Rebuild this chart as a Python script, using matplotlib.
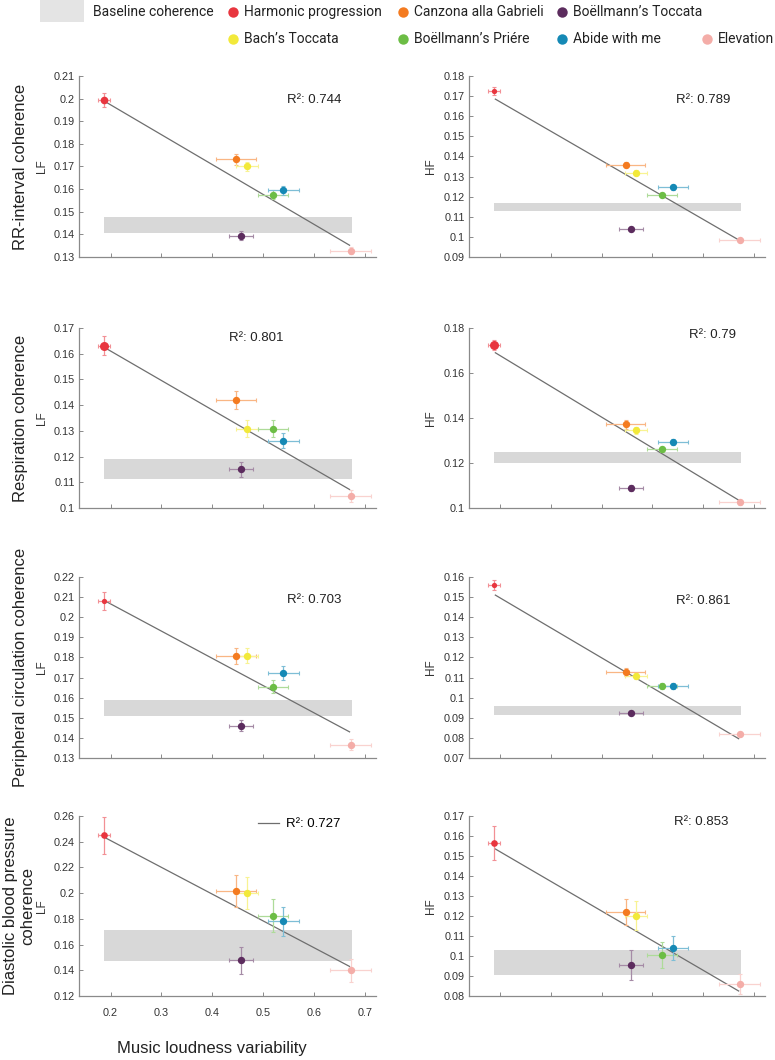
import matplotlib
matplotlib.use("Agg")
import matplotlib.pyplot as plt
import matplotlib.colors as mcolors
from matplotlib.lines import Line2D
from matplotlib.patches import Rectangle
from matplotlib.ticker import FuncFormatter
import numpy as np

plt.rcParams['font.family'] = ['Liberation Sans', 'DejaVu Sans']

# ---------------- data ----------------
pieces = ["Harmonic progression", "Canzona alla Gabrieli", "Boëllmann’s Toccata",
          "Bach’s Toccata", "Boëllmann’s Priére", "Abide with me", "Elevation"]
piece_colors = ["#E8363F", "#F47B20", "#5C2C5E", "#F2E93A", "#6CBD45", "#1589B5", "#F4ADA8"]

loudness = [0.187, 0.447, 0.457, 0.468, 0.519, 0.540, 0.672]
loudness_err = [0.012, 0.039, 0.024, 0.022, 0.030, 0.030, 0.040]

row_titles = ["RR-interval coherence", "Respiration coherence",
              "Peripheral circulation coherence", "Diastolic blood pressure\ncoherence"]
band_names = ["LF", "HF"]

# coherence means (order of pieces list)
rr_lf = [0.1994, 0.1731, 0.1394, 0.1701, 0.1575, 0.1594, 0.1327]
rr_lf_err = [0.0030, 0.0025, 0.0020, 0.0020, 0.0020, 0.0020, 0.0015]
rr_hf = [0.1725, 0.1358, 0.1040, 0.1320, 0.1210, 0.1247, 0.0985]
rr_hf_err = [0.0020, 0.0012, 0.0010, 0.0012, 0.0010, 0.0012, 0.0008]
resp_lf = [0.1631, 0.1420, 0.1150, 0.1309, 0.1309, 0.1262, 0.1046]
resp_lf_err = [0.0037, 0.0034, 0.0030, 0.0034, 0.0034, 0.0030, 0.0023]
resp_hf = [0.1724, 0.1373, 0.1089, 0.1345, 0.1260, 0.1293, 0.1025]
resp_hf_err = [0.0022, 0.0020, 0.0012, 0.0015, 0.0012, 0.0015, 0.0010]
per_lf = [0.2082, 0.1808, 0.1461, 0.1808, 0.1655, 0.1723, 0.1366]
per_lf_err = [0.0045, 0.0040, 0.0026, 0.0037, 0.0033, 0.0035, 0.0026]
per_hf = [0.1560, 0.1130, 0.0922, 0.1110, 0.1059, 0.1056, 0.0820]
per_hf_err = [0.0025, 0.0020, 0.0010, 0.0015, 0.0015, 0.0015, 0.0010]
dbp_lf = [0.2450, 0.2020, 0.1480, 0.2000, 0.1825, 0.1780, 0.1400]
dbp_lf_err = [0.0145, 0.0125, 0.0105, 0.0125, 0.0130, 0.0110, 0.0090]
dbp_hf = [0.1563, 0.1219, 0.0955, 0.1202, 0.1005, 0.1042, 0.0858]
dbp_hf_err = [0.0085, 0.0064, 0.0073, 0.0073, 0.0063, 0.0060, 0.0050]

# baseline coherence bands (low, high)
baseline = [(0.1408, 0.1477), (0.1127, 0.1167), (0.1112, 0.1189), (0.1202, 0.1250),
            (0.1511, 0.1589), (0.0912, 0.0957), (0.1470, 0.1714), (0.0904, 0.1032)]
baseline_x = (0.188, 0.675)

# regression line (x range and y at its ends)
fit_x = (0.19, 0.67)
fit_y = [(0.1986, 0.1352), (0.1685, 0.0985), (0.1622, 0.1072), (0.1690, 0.1035),
         (0.2080, 0.1430), (0.1510, 0.0796), (0.2430, 0.1430), (0.1535, 0.0825)]
r2 = ["0.744", "0.789", "0.801", "0.79", "0.703", "0.861", "0.727", "0.853"]

# y axis ranges (min, max, step)
y_axes = [(0.13, 0.21, 0.01), (0.09, 0.18, 0.01), (0.10, 0.17, 0.01), (0.10, 0.18, 0.02),
          (0.13, 0.22, 0.01), (0.07, 0.16, 0.01), (0.12, 0.26, 0.02), (0.08, 0.17, 0.01)]
x_ticks = [0.2, 0.3, 0.4, 0.5, 0.6, 0.7]
x_range = (0.138, 0.722)

means = [rr_lf, rr_hf, resp_lf, resp_hf, per_lf, per_hf, dbp_lf, dbp_hf]
errs = [rr_lf_err, rr_hf_err, resp_lf_err, resp_hf_err, per_lf_err, per_hf_err, dbp_lf_err, dbp_hf_err]

# ---------------- style ----------------
r2_pos = [(0.547, 0.1995), (0.546, 0.168), (0.433, 0.1663), (0.572, 0.1767),
          (0.547, 0.2085), (0.546, 0.1482), (0.490, 0.2535), (0.542, 0.167)]
first_ms = [5.5, 3.8, 6.5, 6.5, 3.8, 3.8, 4.8, 4.8]
ms = 5.3

W, H = 775, 1060
fig = plt.figure(figsize=(W / 100, H / 100), dpi=100)

col_px = [(79, 376), (469, 765)]
row_px = [(76, 257), (328, 508), (577, 758), (816, 996)]


def lighten(c, f=0.45):
    r = np.array(mcolors.to_rgb(c))
    return tuple(r + (1 - r) * f)


axes = []
for i in range(8):
    r, c = divmod(i, 2)
    x0, x1 = col_px[c]
    t, b = row_px[r]
    ax = fig.add_axes([x0 / W, 1 - b / H, (x1 - x0) / W, (b - t) / H])
    axes.append(ax)

    lo, hi = baseline[i]
    ax.fill_between(baseline_x, [lo, lo], [hi, hi], color="#D8D8D8", lw=0, zorder=1)
    fit_line, = ax.plot(fit_x, fit_y[i], color="#6E6E6E", lw=0.9, zorder=2)

    for k in range(len(pieces)):
        col = piece_colors[k]
        ax.errorbar(loudness[k], means[i][k], xerr=loudness_err[k], yerr=errs[i][k],
                    fmt="none", ecolor=lighten(col), elinewidth=0.9, capsize=1.6,
                    capthick=0.8, zorder=3)
        ax.plot(loudness[k], means[i][k], "o", ms=first_ms[i] if k == 0 else ms,
                color=col, mec="none", zorder=4)

    ymin, ymax, ystep = y_axes[i]
    yt = np.round(np.arange(ymin, ymax + ystep / 2, ystep), 3)
    ax.set_yticks(yt)
    ax.set_ylim(ymin, ymax)
    ax.yaxis.set_major_formatter(FuncFormatter(lambda v, p: f"{v:g}"))
    ax.set_xticks(x_ticks)
    ax.set_xlim(*x_range)
    if i == 6:
        ax.set_xticklabels([f"{v:g}" for v in x_ticks])
    else:
        ax.set_xticklabels([])

    for s in ["top", "right"]:
        ax.spines[s].set_visible(False)
    for s in ["left", "bottom"]:
        ax.spines[s].set_color("#8A8A8A")
        ax.spines[s].set_linewidth(0.9)
    ax.tick_params(direction="in", length=3, width=0.7, color="#8A8A8A",
                   labelsize=7.8, labelcolor="#333333", pad=3)
    ax.tick_params(axis="x", pad=9)

    ax.set_ylabel(band_names[c], fontsize=8.5, color="#333333")
    ax.yaxis.set_label_coords(-(31 if c == 0 else 32) / (x1 - x0), 0.5)

    if i == 6:
        ax.legend([fit_line], [f"R²: {r2[i]}"], loc="center left",
                  bbox_to_anchor=r2_pos[i], bbox_transform=ax.transData,
                  frameon=False, fontsize=9.5, handlelength=1.6, handletextpad=0.5,
                  borderpad=0, borderaxespad=0)
    else:
        ax.text(r2_pos[i][0], r2_pos[i][1], f"R²: {r2[i]}", fontsize=9.5,
                ha="left", va="center", color="#222222")

# row titles
title_x = [21, 21, 21, 19]
for r, title in enumerate(row_titles):
    t, b = row_px[r]
    fig.text(title_x[r] / W, 1 - (t + b) / 2 / H, title, rotation=90, ha="center",
             va="center", fontsize=12, color="#222222", linespacing=1.15)

fig.text(212 / W, 1 - 1048 / H, "Music loudness variability", ha="center", va="center",
         fontsize=12, color="#222222")

# ---------------- legend ----------------
leg_font = ['Liberation Sans Narrow', 'Roboto', 'DejaVu Sans']
fig.add_artist(Rectangle((40 / W, 1 - 22 / H), 44 / W, 22 / H, transform=fig.transFigure,
                         color="#E4E4E4", lw=0))
fig.text(93 / W, 1 - 12 / H, "Baseline coherence", ha="left", va="center",
         fontsize=10, family=leg_font, color="#222222")
leg_slots = [(233, 12), (403, 12), (562, 12), (233, 39), (403, 39), (562, 39), (707, 39)]
for k, (px, py) in enumerate(leg_slots):
    fig.add_artist(Line2D([px / W], [1 - py / H], marker="o", ms=7.5, color=piece_colors[k],
                          mec="none", transform=fig.transFigure, ls="none"))
    fig.text((px + 11) / W, 1 - py / H, pieces[k], ha="left", va="center",
             fontsize=10, family=leg_font, color="#222222")

fig.savefig("out.png", dpi=100)
